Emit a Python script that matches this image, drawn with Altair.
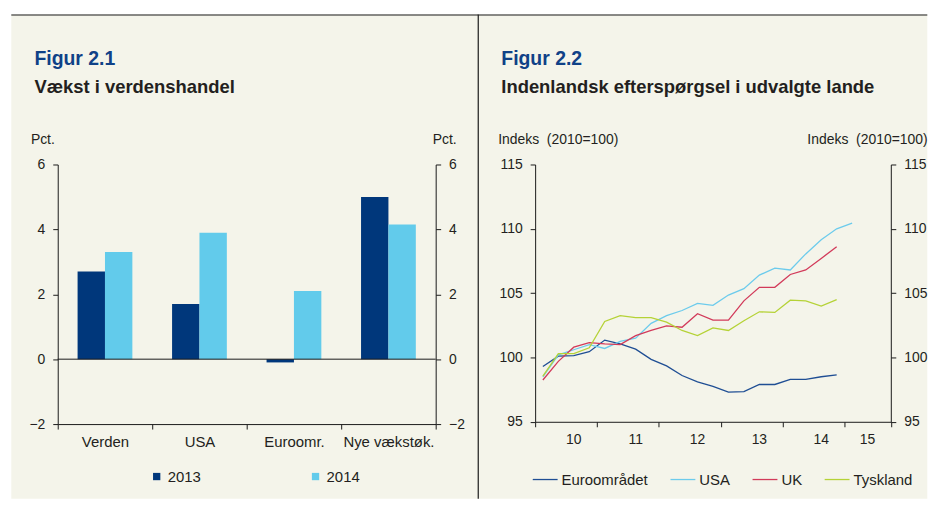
import altair as alt
import pandas as pd

FONT = "Liberation Sans"
BEIGE = "#f4f4ea"
INK = "#231f20"
LINE = "#1a1a1a"
TITLE_BLUE = "#0f4187"

# ---------------- Figur 2.1 data ----------------
fig1_title = "Figur 2.1"
fig1_subtitle = "Vækst i verdenshandel"
fig1_unit = "Pct."
regions = ["Verden", "USA", "Euroomr.", "Nye vækstøk."]
growth_2013 = [2.7, 1.7, -0.1, 5.0]
growth_2014 = [3.3, 3.9, 2.1, 4.15]
bar_years = ["2013", "2014"]
bar_colors = ["#00377b", "#62cbeb"]
fig1_ticks = [-2, 0, 2, 4, 6]

# ---------------- Figur 2.2 data ----------------
fig2_title = "Figur 2.2"
fig2_subtitle = "Indenlandsk efterspørgsel i udvalgte lande"
fig2_unit = "Indeks\u00a0 (2010=100)"
year_labels = ["10", "11", "12", "13", "14", "15"]
quarters_per_year = [4, 4, 4, 4, 4, 3]
euro = [99.3, 100.1, 100.15, 100.45, 101.35, 101.05, 100.65, 99.85, 99.35, 98.6,
        98.1, 97.75, 97.3, 97.35, 97.9, 97.9, 98.3, 98.3, 98.5, 98.65]
usa = [98.5, 100.2, 100.6, 101.0, 100.7, 101.25, 101.5, 102.65, 103.25, 103.65,
       104.2, 104.05, 104.85, 105.35, 106.4, 106.95, 106.8, 108.05, 109.15, 110.0, 110.45]
uk = [98.25, 99.7, 100.8, 101.15, 101.05, 101.0, 101.7, 102.1, 102.45, 102.35,
      103.4, 102.9, 102.9, 104.4, 105.45, 105.45, 106.45, 106.8, 107.7, 108.6]
tyskland = [98.55, 100.3, 100.3, 100.75, 102.8, 103.25, 103.1, 103.1, 102.75, 102.1,
            101.7, 102.3, 102.1, 102.85, 103.55, 103.5, 104.45, 104.4, 104.0, 104.5]
countries = ["Euroområdet", "USA", "UK", "Tyskland"]
country_colors = ["#1f4e94", "#6ccbec", "#d23a5a", "#b5d236"]
fig2_ticks = [95, 100, 105, 110, 115]

# ---------------- tables ----------------
bar_df = pd.DataFrame({
    "region": regions * 2,
    "year": [bar_years[0]] * 4 + [bar_years[1]] * 4,
    "value": growth_2013 + growth_2014,
})

rows = []
for name, series in zip(countries, [euro, usa, uk, tyskland]):
    for i, v in enumerate(series):
        rows.append({"country": name, "q": i + 0.5, "value": v})
line_df = pd.DataFrame(rows)

starts = [sum(quarters_per_year[:k]) for k in range(len(quarters_per_year))]
boundaries = starts + [sum(quarters_per_year)]
label_pos = [s + (n / 2 + 0.5 if n == 4 else n / 2) for s, n in zip(starts, quarters_per_year)]
year_df = pd.DataFrame({"label": year_labels, "pos": label_pos})

one = pd.DataFrame({"a": [0]})

# ---------------- geometry ----------------
W1, H1 = 380, 261
W2, H2 = 357.6, 258.7
GAP = 100
TOP = -150.3       # top frame line relative to plot top
BOTTOM = 336       # bottom of panel background relative to plot top
RIGHT_EDGE = 36.7  # panel background beyond the right axis
LW = 1.2           # frame line width


def frame_rect(x, x2, y, y2, color):
    return alt.Chart(one).mark_rect(color=color, strokeWidth=0).encode(
        x=alt.value(x), x2=alt.value(x2), y=alt.value(y), y2=alt.value(y2))


def y_axis(orient, values, title, tx, align):
    return alt.Axis(orient=orient, values=values, title=title, titleAngle=0,
                    titleX=tx, titleY=-21.6, titleAlign=align, titleBaseline="alphabetic",
                    titleFont=FONT, titleFontSize=14, titleFontWeight="normal", titleColor=INK,
                    labelFont=FONT, labelFontSize=14, labelColor=INK, labelPadding=8,
                    tickSize=5, tickColor=LINE, domainColor=LINE, grid=False, zindex=2)

# ---------------- Figur 2.1 ----------------
bg1 = frame_rect(-46.7, W1 + 42.8, TOP - LW / 2, BOTTOM, BEIGE)
top1 = frame_rect(-46.7, W1 + 42.8, TOP - LW / 2, TOP + LW / 2, LINE)
t1 = alt.Chart(one).mark_text(text=fig1_title, font=FONT, fontSize=19.5, fontWeight="bold",
                              color=TITLE_BLUE, align="left", baseline="alphabetic").encode(
    x=alt.value(-23.4), y=alt.value(-99.6))
s1 = alt.Chart(one).mark_text(text=fig1_subtitle, font=FONT, fontSize=18.5, fontWeight="bold",
                              color=INK, align="left", baseline="alphabetic").encode(
    x=alt.value(-23.4), y=alt.value(-72.3))

bars = alt.Chart(bar_df).mark_bar().encode(
    x=alt.X("region:N", sort=regions,
            scale=alt.Scale(paddingInner=0, paddingOuter=0),
            axis=alt.Axis(title=None, tickBand="extent", labelAngle=0, tickSize=5,
                          labelFont=FONT, labelFontSize=15, labelColor=INK, labelPadding=5.6,
                          tickColor=LINE, domainColor=LINE, grid=False, zindex=2)),
    xOffset=alt.XOffset("year:N", scale=alt.Scale(paddingInner=0, paddingOuter=0.725)),
    y=alt.Y("value:Q", scale=alt.Scale(domain=[-2, 6], nice=False),
            axis=y_axis("left", fig1_ticks, fig1_unit, -3.4, "right")),
    color=alt.Color("year:N", scale=alt.Scale(domain=bar_years, range=bar_colors),
                    legend=alt.Legend(title=None, orient="none", legendX=92, legendY=306,
                                      direction="horizontal", symbolType="square", symbolSize=54,
                                      symbolStrokeWidth=0, labelFont=FONT, labelFontSize=15,
                                      labelColor=INK, labelOffset=3.6, columnPadding=107.7,
                                      padding=0)),
)

zero = alt.Chart(pd.DataFrame({"v": [0]})).mark_rule(color=LINE, strokeWidth=1).encode(
    y=alt.Y("v:Q", axis=y_axis("right", fig1_ticks, fig1_unit, 20.6, "right")))

left = alt.layer(bg1, top1, t1, s1, bars, zero).resolve_axis(y="independent").properties(
    width=W1, height=H1)

# ---------------- Figur 2.2 ----------------
xaxis2 = alt.Axis(title=None, values=boundaries, labels=False, tickSize=5,
                  tickColor=LINE, domainColor=LINE, grid=False, zindex=2)
xscale2 = alt.Scale(domain=[0, sum(quarters_per_year)], nice=False, zero=True)
yscale2 = alt.Scale(domain=[95, 115], nice=False, zero=False)

bg2 = frame_rect(-57.2, W2 + RIGHT_EDGE, TOP - LW / 2, BOTTOM, BEIGE)
top2 = frame_rect(-57.2, W2 + RIGHT_EDGE, TOP - LW / 2, TOP + LW / 2, LINE)
div2 = frame_rect(-57.2 - LW / 2, -57.2 + LW / 2, TOP - LW / 2, BOTTOM, LINE)
t2 = alt.Chart(one).mark_text(text=fig2_title, font=FONT, fontSize=19.5, fontWeight="bold",
                              color=TITLE_BLUE, align="left", baseline="alphabetic").encode(
    x=alt.value(-34), y=alt.value(-100))
s2 = alt.Chart(one).mark_text(text=fig2_subtitle, font=FONT, fontSize=18.5, fontWeight="bold",
                              color=INK, align="left", baseline="alphabetic").encode(
    x=alt.value(-34), y=alt.value(-72.3))

lines = alt.Chart(line_df).mark_line(strokeWidth=1.3).encode(
    x=alt.X("q:Q", scale=xscale2, axis=xaxis2),
    y=alt.Y("value:Q", scale=yscale2,
            axis=y_axis("left", fig2_ticks, fig2_unit, -37.7, "left")),
    color=alt.Color("country:N", sort=countries,
                    scale=alt.Scale(domain=countries, range=country_colors),
                    legend=alt.Legend(title=None, orient="none", legendX=-3.4, legendY=303,
                                      direction="horizontal", symbolType="stroke", symbolSize=625,
                                      symbolStrokeWidth=1.3, labelFont=FONT, labelFontSize=15,
                                      labelColor=INK, labelOffset=3, columnPadding=19.5,
                                      padding=0)),
)

right_axis2 = alt.Chart(pd.DataFrame({"v": fig2_ticks})).mark_point(opacity=0).encode(
    y=alt.Y("v:Q", scale=yscale2,
            axis=y_axis("right", fig2_ticks, fig2_unit, RIGHT_EDGE - 0.2, "right")))

years = alt.Chart(year_df).mark_text(font=FONT, fontSize=14, color=INK, align="center",
                                     baseline="alphabetic").encode(
    x=alt.X("pos:Q", scale=xscale2, axis=xaxis2),
    y=alt.value(H2 + 22.3),
    text="label:N",
)

right = alt.layer(bg2, top2, div2, t2, s2, lines, years, right_axis2).resolve_axis(
    y="independent").properties(width=W2, height=H2)

chart = alt.hconcat(left, right, spacing=GAP, bounds="flush").resolve_scale(
    color="independent"
).properties(
    padding={"left": 2, "top": 4, "right": 0, "bottom": 0}, background="white"
).configure_view(stroke="transparent")

chart.save("out.html", embed_options={"renderer": "svg", "actions": False})
